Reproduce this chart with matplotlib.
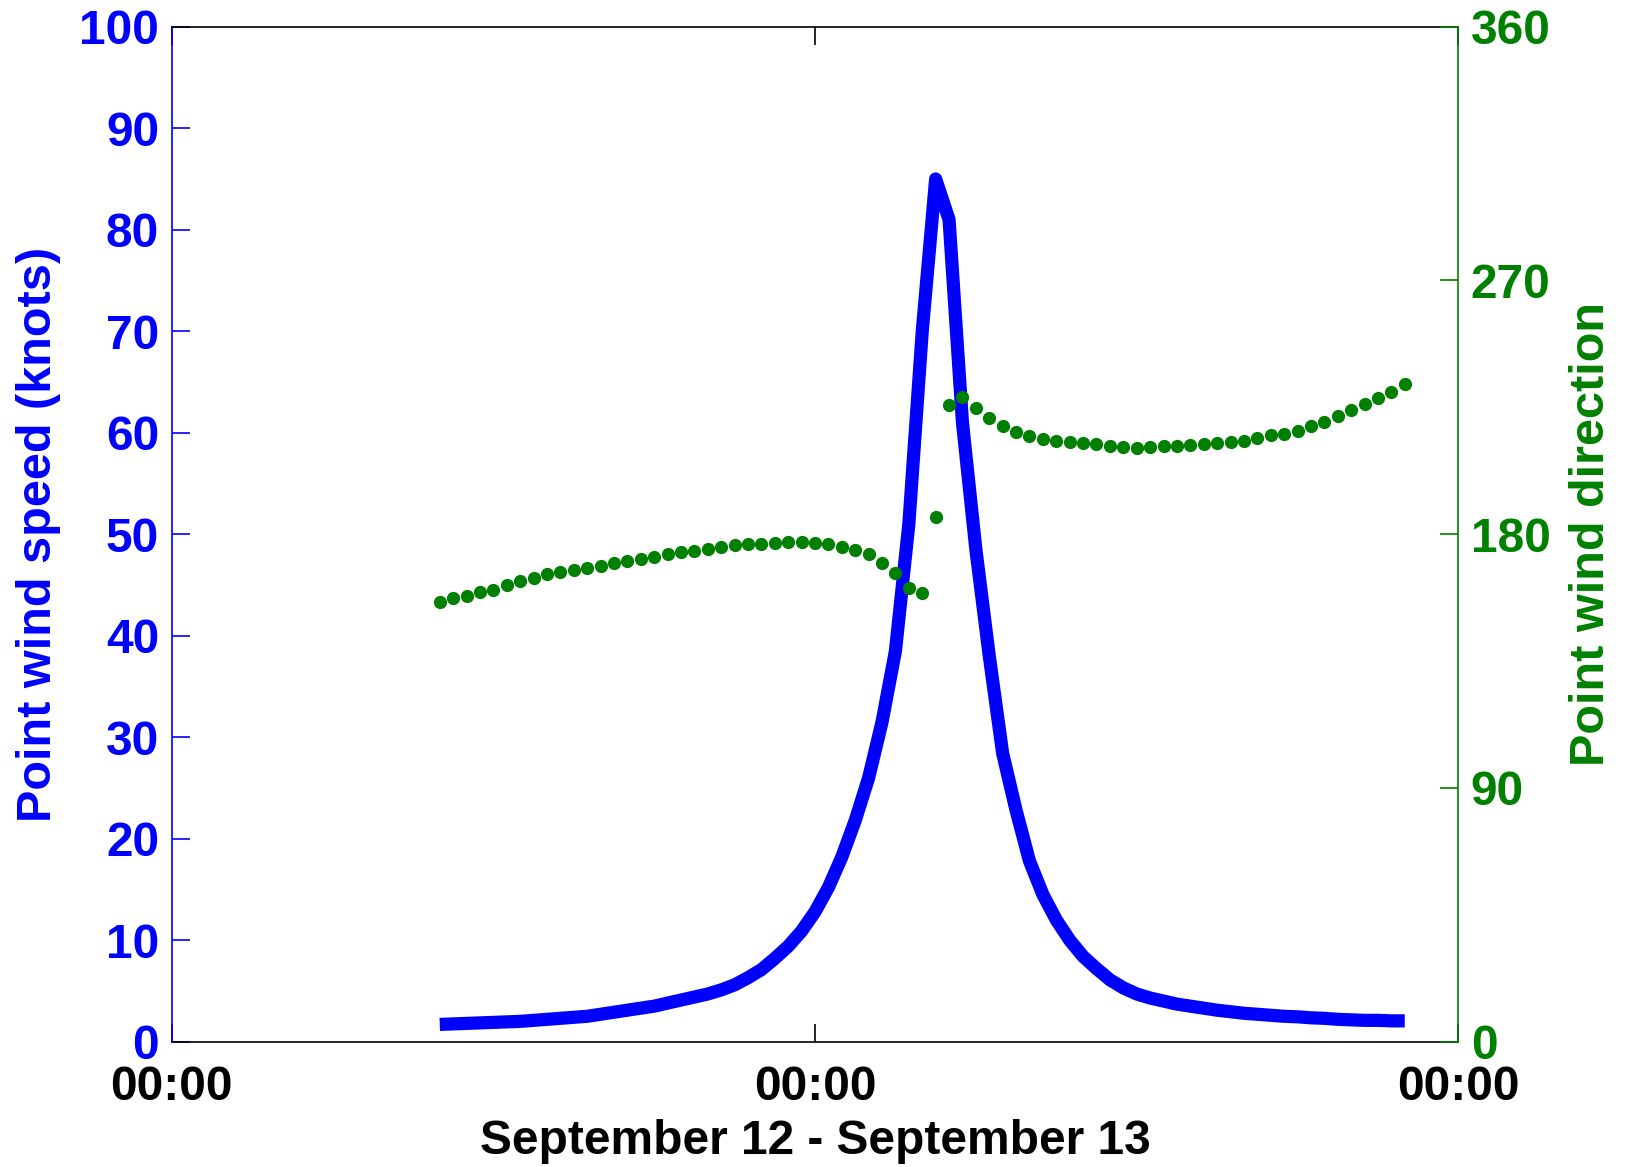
import numpy as np
import matplotlib
matplotlib.use('Agg')
import matplotlib.pyplot as plt

plt.rcParams['font.family'] = ['Liberation Sans', 'DejaVu Sans']
plt.rcParams['font.weight'] = 'bold'

# hours since 00:00 September 12, sampled every half hour
hours = np.arange(10.0, 46.01, 0.5)

wind_speed = [1.7, 1.75, 1.8, 1.85, 1.9, 1.95, 2.0, 2.1, 2.2, 2.3, 2.4, 2.5,
              2.7, 2.9, 3.1, 3.3, 3.5, 3.8, 4.1, 4.4, 4.7, 5.1, 5.6, 6.3,
              7.1, 8.2, 9.4, 10.9, 12.8, 15.2, 18.2, 21.8, 26.0, 31.5, 38.5, 51.0,
              70.0, 85.0,
              81.0, 61.0, 48.5, 38.0, 28.4, 22.8, 17.8, 14.5, 12.0, 10.0, 8.4, 7.2,
              6.1, 5.3, 4.7, 4.3, 4.0, 3.7, 3.5, 3.3, 3.1, 2.95, 2.8, 2.7,
              2.6, 2.5, 2.45, 2.35, 2.3, 2.2, 2.15, 2.1, 2.1, 2.05, 2.05]

wind_dir = [156.1, 157.3, 158.2, 159.4, 160.3, 162.0, 163.5, 164.5, 165.9, 166.5,
            167.4, 168.1, 168.7, 169.9, 170.6, 171.2, 171.8, 172.9, 173.6, 174.2,
            174.9, 175.6, 176.1, 176.4, 176.6, 177.0, 177.2, 177.2, 177.0, 176.6,
            175.6, 174.5, 172.9, 169.8, 166.1, 161.0,
            159.0, 186.0,
            225.8, 228.6, 224.8, 221.1, 218.3, 216.3, 214.8, 213.9, 213.2, 212.8,
            212.5, 211.9, 211.3, 210.8, 210.5, 210.9, 211.3, 211.3, 211.6, 211.9,
            212.2, 212.6, 213.0, 214.0, 215.1, 215.7, 216.5, 218.4, 219.9, 222.0,
            224.1, 226.1, 228.2, 230.5, 233.2]

x_ticks = [0, 24, 48]
x_ticklabels = ['00:00', '00:00', '00:00']
speed_ticks = list(range(0, 101, 10))
dir_ticks = [0, 90, 180, 270, 360]

blue = '#0000ff'
green = '#008000'
fs = 34.5

fig = plt.figure(figsize=(16.26, 11.67), dpi=100)
ax = fig.add_axes([0.1056, 0.1074, 0.7913, 0.8697])
ax.plot(hours, wind_speed, color=blue, lw=9.5, solid_capstyle='butt',
        solid_joinstyle='round')
ax.set_xlim(0, 48)
ax.set_ylim(0, 100)
ax.set_xticks(x_ticks)
ax.set_xticklabels(x_ticklabels)
ax.set_yticks(speed_ticks)
ax.tick_params(axis='y', direction='in', length=13, width=1.2, colors=blue,
               labelsize=fs, pad=9, right=True)
ax.tick_params(axis='x', direction='in', length=13, width=1.2, colors='black',
               labelsize=fs, pad=17, top=True)
ax.spines['left'].set_color(blue)
ax.spines['right'].set_visible(False)
for s in ['top', 'bottom', 'left']:
    ax.spines[s].set_linewidth(1.2)
ax.set_ylabel('Point wind speed (knots)', color=blue, fontsize=fs + 0.5,
              fontweight='bold', labelpad=13)
ax.set_xlabel('September 12 - September 13', fontsize=fs,
              fontweight='bold', labelpad=6)

ax2 = ax.twinx()
ax2.plot(hours, wind_dir, 'o', color=green, ms=8.5)
ax2.set_ylim(0, 360)
ax2.set_yticks(dir_ticks)
ax2.tick_params(axis='y', direction='in', length=13, width=1.2, colors=green,
                labelsize=fs, pad=9)
for s in ['top', 'bottom', 'left']:
    ax2.spines[s].set_visible(False)
ax2.spines['right'].set_color(green)
ax2.spines['right'].set_linewidth(1.2)
ax2.set_ylabel('Point wind direction', color=green, fontsize=fs + 0.5,
               fontweight='bold', labelpad=13)

fig.savefig('out.png', dpi=100)
